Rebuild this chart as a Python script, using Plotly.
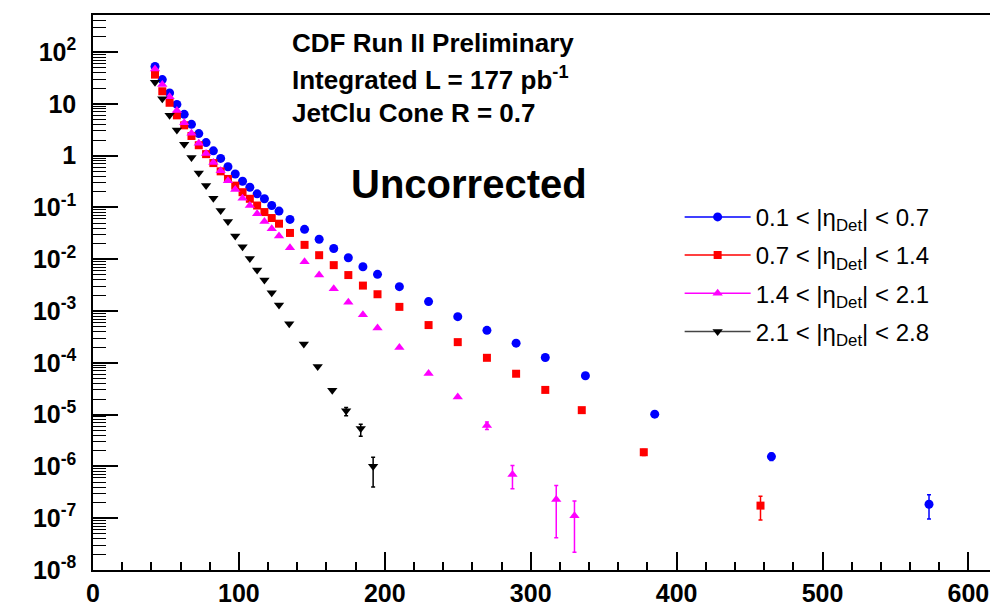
import plotly.graph_objects as go

# Jet transverse energy bins (GeV): 5 GeV bins at low Et, wider bins above
et_low = [42.5, 47.5, 52.5, 57.5, 62.5, 67.5, 72.5, 77.5, 82.5, 87.5,
          92.5, 97.5, 102.5, 107.5, 112.5, 117.5, 122.5, 127.5]
et_mid = [135, 145, 155, 165, 175, 185, 195]
et_high = [210, 230, 250, 270, 290, 310]

# 0.1 < |eta_Det| < 0.7
x_c = et_low + et_mid + et_high + [337.5, 385, 465, 573]
y_c = [52.9, 29.4, 16.3, 9.75, 6.27, 4.03, 2.67, 1.79, 1.24, 0.885,
       0.611, 0.442, 0.320, 0.246, 0.183, 0.147, 0.109, 0.0851,
       0.0588, 0.0378, 0.0243, 0.0161, 0.0107, 0.00717, 0.00511,
       0.00296, 0.00152, 7.8e-4, 4.24e-4, 2.40e-4, 1.27e-4,
       5.64e-5, 1.02e-5, 1.55e-6, 1.86e-7]
eu_c = [0] * 33 + [0.25e-6, 0.99e-7]
ed_c = [0] * 33 + [0.25e-6, 0.89e-7]

# 0.7 < |eta_Det| < 1.4
x_p = et_low + et_mid + et_high + [335, 377.5, 457.5]
y_p = [36.7, 17.5, 10.5, 6.0, 3.85, 2.40, 1.59, 1.07, 0.719, 0.498,
       0.355, 0.264, 0.197, 0.147, 0.109, 0.0815, 0.0625, 0.0486,
       0.0322, 0.01895, 0.01198, 0.0077, 0.00495, 0.0031, 0.00211,
       0.001204, 5.36e-4, 2.51e-4, 1.25e-4, 6.16e-5, 3.0e-5,
       1.22e-5, 1.88e-6, 1.75e-7]
eu_p = [0] * 32 + [0.25e-6, 0.9e-7]
ed_p = [0] * 32 + [0.25e-6, 0.83e-7]

# 1.4 < |eta_Det| < 2.1
x_i = et_low + et_mid + [210, 230, 250, 270, 287.5, 317.5, 330]
y_i = [47.2, 23.6, 13.7, 7.48, 4.34, 2.71, 1.74, 1.10, 0.742, 0.512,
       0.329, 0.221, 0.151, 0.109, 0.0756, 0.0538, 0.039, 0.0282,
       0.0166, 0.00895, 0.00495, 0.00269, 0.00148, 8.46e-4, 4.70e-4,
       1.97e-4, 6.24e-5, 2.2e-5, 6.19e-6, 7.0e-7, 2.29e-7, 1.11e-7]
eu_i = [0] * 28 + [1.0e-6, 0.34e-6, 2.0e-7, 1.04e-7]
ed_i = [0] * 28 + [1.0e-6, 0.33e-6, 1.87e-7, 0.89e-7]

# 2.1 < |eta_Det| < 2.8
x_f = et_low + [134.5, 144.5, 154, 164, 173.5, 183.5, 192]
y_f = [26.1, 12.5, 6.0, 3.13, 1.66, 0.925, 0.462, 0.264, 0.151, 0.0874,
       0.0538, 0.0282, 0.01736, 0.01035, 0.00617, 0.00397, 0.00225, 0.001315,
       5.68e-4, 2.32e-4, 8.5e-5, 2.97e-5, 1.19e-5, 5.42e-6, 1.01e-6]
eu_f = [0] * 22 + [0.18e-5, 1.1e-6, 0.49e-6]
ed_f = [0] * 22 + [0.24e-5, 1.6e-6, 0.61e-6]

labels = ["0.1 &lt; |η<sub>Det</sub>| &lt; 0.7",
          "0.7 &lt; |η<sub>Det</sub>| &lt; 1.4",
          "1.4 &lt; |η<sub>Det</sub>| &lt; 2.1",
          "2.1 &lt; |η<sub>Det</sub>| &lt; 2.8"]

x_ticks = [0, 100, 200, 300, 400, 500, 600]
y_ticks = [1e-8, 1e-7, 1e-6, 1e-5, 1e-4, 1e-3, 1e-2, 1e-1, 1, 10, 100]
y_ticktext = ["10<sup>-8</sup>", "10<sup>-7</sup>", "10<sup>-6</sup>",
              "10<sup>-5</sup>", "10<sup>-4</sup>", "10<sup>-3</sup>",
              "10<sup>-2</sup>", "10<sup>-1</sup>", "1", "10",
              "10<sup>2</sup>"]

FONT = "Liberation Sans"

series = [
    (x_c, y_c, eu_c, ed_c, "#0000ff", "circle", 9),
    (x_p, y_p, eu_p, ed_p, "#ff0000", "square", 8),
    (x_i, y_i, eu_i, ed_i, "#ff00ff", "triangle-up", 9),
    (x_f, y_f, eu_f, ed_f, "#000000", "triangle-down", 9),
]

fig = go.Figure()
for (xs, ys, eu, ed, col, sym, sz), name in zip(series, labels):
    fig.add_trace(go.Scatter(
        x=xs, y=ys, mode="markers", showlegend=False,
        marker=dict(color=col, symbol=sym, size=sz, line=dict(width=0)),
        error_y=dict(type="data", symmetric=False, array=eu, arrayminus=ed,
                     color=col, thickness=1.5, width=2),
        hoverinfo="x+y",
    ))

# Legend entries with line + marker glyphs
legend_line_cols = ["#0000ff", "#ff0000", "#ff00ff", "#444444"]
for i, ((xs, ys, eu, ed, col, sym, sz), name, lc) in enumerate(
        zip(series, labels, legend_line_cols)):
    fig.add_trace(go.Scatter(
        x=[None], y=[None], mode="lines+markers", name=name,
        legendgroup=f"g{i}",
        line=dict(color=lc, width=1.5),
        marker=dict(color=col, symbol=sym, size=sz),
    ))

axis_common = dict(showline=True, linecolor="black", linewidth=1.5,
                   ticks="inside", tickcolor="black", tickwidth=1.5,
                   showgrid=False, zeroline=False)

y_minor = [k * 10.0 ** e for e in range(-8, 3) for k in range(2, 10)]

fig.update_layout(
    width=990, height=607,
    margin=dict(l=93, r=0, t=15, b=34),
    paper_bgcolor="white", plot_bgcolor="white",
    font=dict(family=FONT, color="black"),
    xaxis=dict(range=[0, 614.8], tickmode="array", tickvals=x_ticks,
               ticklen=18, mirror=True,
               tickfont=dict(family=FONT, size=25, weight="bold"),
               minor=dict(ticks="inside", ticklen=8, dtick=20, tick0=0,
                          tickcolor="black", tickwidth=1.5, showgrid=False),
               **axis_common),
    yaxis=dict(type="log", range=[-8, 2.716], tickmode="array",
               tickvals=y_ticks, ticktext=y_ticktext, ticklen=25,
               ticklabelstandoff=10,
               tickfont=dict(family=FONT, size=25, weight="bold"),
               minor=dict(ticks="inside", ticklen=13, tickmode="array",
                          tickvals=y_minor, tickcolor="black", tickwidth=1.2,
                          showgrid=False),
               **axis_common),
    legend=dict(x=0.654, y=0.676, xanchor="left", yanchor="top",
                bgcolor="rgba(0,0,0,0)", borderwidth=0,
                font=dict(family=FONT, size=24, color="black"),
                itemwidth=66, tracegroupgap=4),
)

text_lines = [
    ("CDF Run II Preliminary", 43, 26),
    ("Integrated L = 177 pb<sup>-1</sup>", 79, 26),
    ("JetClu Cone R = 0.7", 114, 26),
]
for txt, py, fs in text_lines:
    fig.add_annotation(text=txt, xref="paper", yref="paper",
                       x=(290 - 93) / 897, y=1 - (py - 15) / 558,
                       xanchor="left", yanchor="middle", showarrow=False,
                       font=dict(family=FONT, size=fs, weight="bold", color="black"))

fig.add_annotation(text="Uncorrected", xref="paper", yref="paper",
                   x=(349 - 93) / 897, y=1 - (185 - 15) / 558,
                   xanchor="left", yanchor="middle", showarrow=False,
                   font=dict(family=FONT, size=40, weight="bold", color="black"))

fig.write_html("out.html")
